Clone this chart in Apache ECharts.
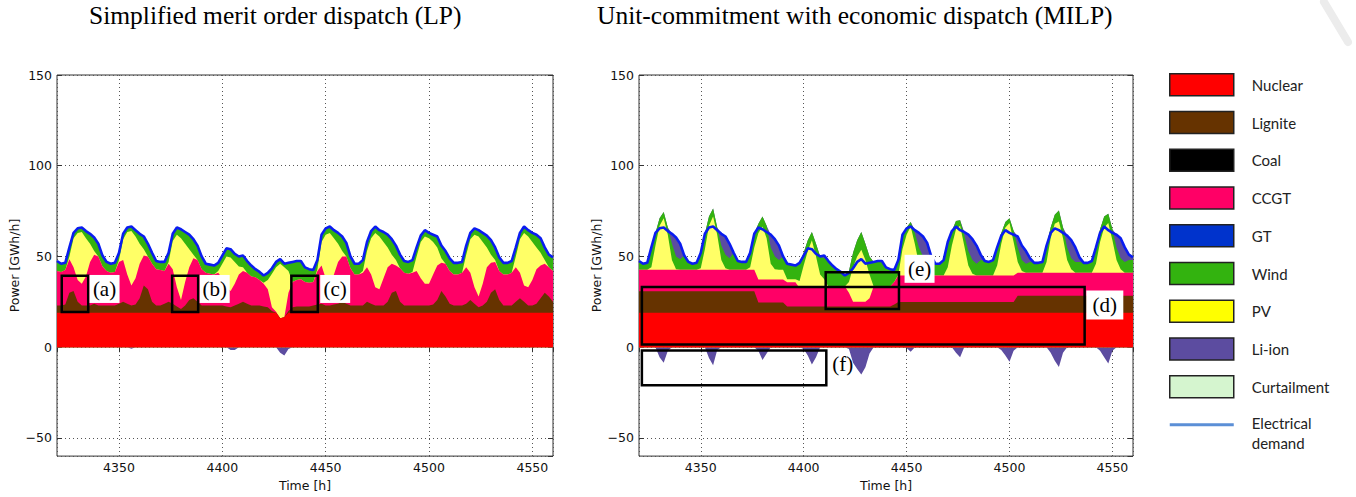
<!DOCTYPE html>
<html>
<head>
<meta charset="utf-8">
<script src="https://cdn.jsdelivr.net/npm/echarts@6/dist/echarts.min.js"></script>
<style>
  html, body { margin: 0; padding: 0; background: #fff; }
  #chart { width: 1356px; height: 497px; }
</style>
</head>
<body>
<div id="chart"></div>
<script>
// Time stamps of the dispatch results (2-hour steps, hours of the year 4320 ... 4560)
const hours = [];
for (let h = 4320; h <= 4560; h += 2) hours.push(h);

// Electrical demand [GWh/h] (same for both models)
const demand = [
  47.5, 46, 46.5, 55, 63, 65.5, 66, 64, 62.5, 60.5, 57, 50.5,
  47, 46, 46.5, 52, 62.5, 66, 66.5, 64.5, 62.5, 61, 57, 52,
  47.5, 47, 47, 52, 62.5, 66, 65, 63.5, 62, 59.5, 56, 50,
  46, 45.5, 45, 46.5, 50.5, 54.5, 54, 51.5, 50, 50.5, 47.5, 45,
  43, 41.5, 39.5, 41, 43.5, 47, 48.5, 46, 46.5, 47, 47.5, 47.5,
  44, 43, 42.5, 48, 62, 65.5, 66.5, 64.5, 63, 61, 57.5, 50,
  46, 46, 48, 58, 64, 66.5, 64.5, 63.5, 62, 59.5, 56, 51,
  47.5, 47, 48, 55, 61.5, 64.5, 63, 62, 61, 56, 53, 49,
  46.5, 46.5, 47, 56, 63, 65.5, 64.5, 63, 61.5, 59, 55, 49.5,
  46.5, 46.5, 47.5, 55, 63, 66.5, 64.5, 63, 62, 60, 55, 51, 49.5
];

// ---- Simplified merit order dispatch (LP): generation per technology [GWh/h]
const nuclearLP = [
  19, 19, 19, 19, 19, 19, 19, 19, 19, 19, 19, 19,
  19, 19, 19, 19, 19, 19, 19, 19, 19, 19, 19, 19,
  19, 19, 19, 19, 19, 19, 19, 19, 19, 19, 19, 19,
  19, 19, 19, 19, 19, 19, 19, 19, 19, 19, 19, 19,
  19, 19, 19, 19, 19, 19, 16, 16.5, 19, 19, 19, 19,
  19, 19, 19, 19, 19, 19, 19, 19, 19, 19, 19, 19,
  19, 19, 19, 19, 19, 19, 19, 19, 19, 19, 19, 19,
  19, 19, 19, 19, 19, 19, 19, 19, 19, 19, 19, 19,
  19, 19, 19, 19, 19, 19, 19, 19, 19, 19, 19, 19,
  19, 19, 19, 19, 19, 19, 19, 19, 19, 19, 19, 19, 19
];
const ligniteLP = [
  4, 4, 4.5, 11, 12, 6, 4, 4, 4, 5, 4, 4,
  4, 4, 4, 5, 6, 5, 4, 4.5, 8, 15, 13, 6,
  4, 4, 5, 6, 5, 3.5, 2, 4, 7, 8, 6, 4,
  4, 4, 4, 4, 4, 3.5, 3, 4, 5, 6, 5, 4,
  4, 4, 3.5, 3, 1, 0, 0, 0, 1, 3, 3.5, 3.5,
  3.5, 3.5, 4, 4.5, 5, 4, 4, 4.5, 5, 6, 5, 4,
  4, 4, 4, 6, 5, 4, 4, 4, 6, 11, 12, 6,
  4, 4, 4, 4, 4, 4, 4, 4.5, 7, 12, 9, 5,
  4, 4, 4, 5, 7, 5, 3, 4, 6, 11, 13, 7,
  4, 4, 4, 6, 8, 6, 4, 4, 5, 8, 11, 9, 6
];
const ccgtLP = [
  19, 18.5, 19, 18.5, 13, 12, 12, 16, 24, 27, 27, 21.5,
  19, 18, 18.5, 23, 23, 16, 11, 14.5, 19, 16.5, 18, 21,
  20, 19.5, 18, 21, 19, 10.5, 5, 13, 18, 22, 23, 20,
  18, 17.5, 17, 18, 15, 10.5, 9, 12, 16, 17, 17, 16,
  15.5, 14, 12.5, 10, 2, 0.5, 0, 0, 10, 14, 14.5, 15,
  13.5, 13, 13, 18.5, 21, 15, 13, 16.5, 23, 25, 26, 20.5,
  17, 17, 18, 19, 16, 10, 9, 15, 19, 16, 14, 18.5,
  18, 17.5, 18, 19, 15, 12, 12, 16.5, 19, 15.5, 18, 18,
  17, 17, 18, 20, 15, 9, 6, 12, 19, 16.5, 15, 16,
  17, 17, 18, 19, 14, 9, 10, 14, 19, 18, 16, 16, 17
];
const pvLP = [
  0, 0, 0, 1.5, 16, 26, 28.5, 21, 10, 2, 0, 0,
  0, 0, 0, 1, 11.5, 23.5, 30, 23, 11, 3.5, 0, 0,
  0, 0, 0, 1, 15.5, 29, 34, 21, 10, 2, 0, 0,
  0, 0, 0, 1, 8, 17, 18.5, 12, 4.5, 2, 0, 0,
  0, 0, 0.5, 5, 18.5, 24.5, 30, 27.5, 12, 0, 0, 0,
  0, 0, 0, 1, 13, 24, 27, 20, 10, 3, 0, 0,
  0, 0, 1, 9, 20, 30, 29, 20, 11, 5, 3, 0,
  0, 0, 0.5, 8, 20, 26, 25, 18, 10, 2.5, 0, 0,
  0, 0, 0, 7, 18.5, 29, 33, 23, 11, 4.5, 1, 0,
  0, 0, 0, 6, 18.5, 29, 28, 21, 12, 7, 2, 0, 0
];
const windLP = [
  5.5, 4.5, 4, 5, 3, 2.5, 2.5, 4, 5.5, 7.5, 7, 6,
  5, 5, 5, 4, 3, 2.5, 2.5, 3.5, 5.5, 7, 7, 6,
  4.5, 4.5, 5, 5, 4, 4, 5, 6.5, 8, 8.5, 8, 7,
  5, 5, 5, 4.5, 4.5, 4.5, 4.5, 4.5, 5.5, 6.5, 6.5, 6,
  4.5, 4.5, 4, 4, 3, 3, 2.5, 2, 4.5, 11, 10.5, 10,
  8, 7.5, 6.5, 5, 4, 3.5, 3.5, 4.5, 6, 8, 7.5, 6.5,
  6, 6, 6, 5, 4, 3.5, 3.5, 5.5, 7, 8.5, 8, 7.5,
  6.5, 6.5, 6.5, 5, 3.5, 3.5, 3, 4, 6, 7, 7, 7,
  6.5, 6.5, 6, 5, 3.5, 3.5, 3.5, 5, 6.5, 8, 7, 7.5,
  6.5, 6.5, 6.5, 5, 3.5, 3.5, 3.5, 5, 7, 8, 7, 7, 7.5
];
const liionChargeLP = [
  0, 0, 0, 0, 0, 0, 0, 0, 0, 0, 0, 0,
  0, 0, 0, 0, 0, 0, -0.8, 0, 0, 0, 0, 0,
  0, 0, 0, 0, 0, 0, 0, 0, 0, 0, 0, 0,
  0, 0, 0, 0, 0, 0, -1.5, -1.5, 0, 0, 0, 0,
  0, 0, 0, 0, 0, 0, -3, -4.5, -1, 0, 0, 0,
  0, 0, 0, 0, 0, 0, 0, 0, 0, 0, 0, 0,
  0, 0, 0, 0, 0, 0, 0, 0, 0, 0, 0, 0,
  0, 0, 0, 0, 0, 0, 0, 0, 0, 0, 0, 0,
  0, 0, 0, 0, 0, 0, 0, 0, 0, 0, 0, 0,
  0, 0, 0, 0, 0, 0, 0, 0, 0, 0, 0, 0, 0
];

// ---- Unit-commitment with economic dispatch (MILP): generation per technology [GWh/h]
const nuclearMILP = [
  19, 19, 19, 19, 19, 19, 19, 19, 19, 19, 19, 19,
  19, 19, 19, 19, 19, 19, 19, 19, 19, 19, 19, 19,
  19, 19, 19, 19, 19, 19, 19, 19, 19, 19, 19, 19,
  19, 19, 19, 19, 19, 19, 19, 19, 19, 19, 19, 19,
  19, 19, 19, 19, 19, 19, 19, 19, 19, 19, 19, 19,
  19, 19, 19, 19, 19, 19, 19, 19, 19, 19, 19, 19,
  19, 19, 19, 19, 19, 19, 19, 19, 19, 19, 19, 19,
  19, 19, 19, 19, 19, 19, 19, 19, 19, 19, 19, 19,
  19, 19, 19, 19, 19, 19, 19, 19, 19, 19, 19, 19,
  19, 19, 19, 19, 19, 19, 19, 19, 19, 19, 19, 19, 19
];
const ligniteMILP = [
  11.8, 11.8, 11.8, 11.8, 11.8, 11.8, 11.8, 11.8, 11.8, 11.8, 11.8, 11.8,
  11.8, 11.8, 11.8, 11.8, 11.8, 11.8, 11.8, 11.8, 11.8, 11.8, 11.8, 11.8,
  11.8, 11.8, 11.8, 11.8, 11.8, 5.6, 5.6, 5.6, 5.6, 5.6, 5.6, 5.6,
  3.5, 3.5, 3.5, 3.5, 3.5, 3.5, 3.5, 3.5, 3.5, 3.5, 3.5, 3.5,
  3.5, 3.5, 3.5, 3.5, 3.5, 3.5, 3.5, 3.5, 3.5, 3.5, 3.5, 3.5,
  3.5, 3.5, 4.5, 5.9, 5.9, 5.9, 5.9, 5.9, 5.9, 5.9, 5.9, 5.9,
  5.9, 5.9, 5.9, 5.9, 5.9, 5.9, 5.9, 5.9, 5.9, 5.9, 5.9, 5.9,
  5.9, 5.9, 5.9, 5.9, 5.9, 5.9, 5.9, 5.9, 9.4, 9.4, 9.4, 9.4,
  9.4, 9.4, 9.4, 9.4, 9.4, 9.4, 9.4, 9.4, 9.4, 9.4, 9.4, 9.4,
  9.4, 9.4, 9.4, 9.4, 9.4, 9.4, 9.4, 9.4, 9.4, 9.4, 9.4, 9.4, 9.4
];
const ccgtMILP = [
  11.9, 11.9, 11.9, 11.9, 11.9, 11.9, 11.9, 11.9, 11.9, 11.9, 11.9, 11.9,
  11.9, 11.9, 11.9, 11.9, 11.9, 11.9, 11.9, 11.9, 11.9, 11.9, 11.9, 11.9,
  11.9, 11.9, 11.9, 11.9, 11.9, 12.7, 12.7, 12.7, 12.7, 12.7, 12.7, 12.7,
  13.3, 13.3, 13.3, 10.1, 10.1, 10.1, 10.1, 10.1, 10.1, 10.1, 11, 11,
  11, 11, 11, 7.5, 2.5, 2.5, 2.5, 2.5, 4.5, 11, 11, 11,
  11, 11, 12.5, 14.6, 14.6, 14.6, 14.6, 14.6, 14.6, 14.6, 14.6, 14.6,
  14.6, 14.6, 14.6, 14.6, 14.6, 14.6, 14.6, 14.6, 14.6, 14.6, 14.6, 14.6,
  14.6, 14.6, 14.6, 14.6, 14.6, 14.6, 14.6, 14.6, 12.6, 12.6, 12.6, 12.6,
  12.6, 12.6, 12.6, 12.6, 12.6, 12.6, 12.6, 12.6, 12.6, 12.6, 12.6, 12.6,
  12.6, 12.6, 12.6, 12.6, 12.6, 12.6, 12.6, 12.6, 12.6, 12.6, 12.6, 12.6, 12.6
];
const pvMILP = [
  0, 0, 0, 1.3, 13.3, 24.3, 28.3, 19.3, 5.3, 0.3, 0, 0,
  0, 0, 0, 0.8, 11.3, 24.3, 29.3, 19.3, 5.3, 0.8, 0, 0,
  0, 0, 0, 1.3, 12.3, 25.7, 29.2, 22.7, 8.7, 5.7, 5.4, 5.4,
  1.7, 1.7, 1.7, 3.9, 12.4, 20.4, 26.4, 17.4, 7.4, 4.9, 0, 0,
  0, 0, 0, 6, 19, 25, 28.7, 23, 13, 0, 0, 0,
  0, 0, 0, 0.5, 14.5, 22.5, 27, 17.5, 6.5, 1.5, 0, 0,
  0, 0, 0, 4.5, 16.5, 25.5, 27.5, 16.5, 5.5, 1, 0, 0,
  0, 0, 0, 5.5, 17.5, 26.5, 28.9, 18.5, 6, 1, 0, 0,
  0, 0, 0, 6, 19, 27, 28.3, 19, 7, 2, 0, 0,
  0, 0, 0, 5, 17, 25, 27.4, 18, 7, 2, 0, 0, 0
];
const windMILP = [
  4.8, 3.3, 3.8, 11, 7, 4, 3.5, 4, 9, 7, 5.8, 7.8,
  4.3, 3.3, 3.8, 8.5, 8.5, 5, 4.5, 4, 8, 7.5, 6.3, 9.3,
  4.8, 4.3, 4.3, 8, 7.5, 5, 5.5, 7, 9, 7, 5.3, 7.3,
  9, 8, 7.5, 10, 7, 6, 4.5, 7, 10, 11.5, 14, 11.5,
  9.5, 8, 6, 6, 8, 9, 9.8, 9, 10, 13.5, 14, 14,
  10.5, 9.5, 6.5, 8, 8, 4, 2.5, 6, 9, 9, 8.5, 7.5,
  6.5, 6.5, 8.5, 14, 8, 4.5, 3, 6, 8, 7.5, 6.5, 8.5,
  8, 7.5, 8.5, 10, 6, 3, 2.6, 6, 8, 6, 5, 6,
  5.5, 5.5, 6, 9, 6, 5, 6.1, 6, 7, 6, 6, 6,
  5.5, 5.5, 6.5, 9, 7, 6, 5.1, 6, 7, 6, 6, 7, 7
];
const liionDischargeMILP = [
  0, 0, 0, 0, 0, 0, 0, 0, 5.5, 10.5, 8.5, 0,
  0, 0, 0, 0, 0, 0, 0, 0, 6.5, 10, 8, 0,
  0, 0, 0, 0, 0, 0, 0, 0, 7, 9.5, 8, 0,
  0, 0, 0, 0, 0, 0, 0, 0, 0, 1.5, 0, 0,
  0, 0, 0, 0, 0, 0, 0, 0, 0, 0, 0, 0,
  0, 0, 0, 0, 0, 0, 0, 1.5, 8, 11, 9.5, 3,
  0, 0, 0, 0, 0, 0, 0, 1.5, 9, 11.5, 10, 3,
  0, 0, 0, 0, 0, 0, 0, 0, 6, 8, 7, 2,
  0, 0, 0, 0, 0, 0, 0, 0, 6.5, 10, 8, 2.5,
  0, 0, 0, 0, 0, 0, 0, 0, 7, 11, 8, 3, 1.5
];
const liionChargeMILP = [
  0, 0, 0, 0, 0, -5.5, -8.5, -2, 0, 0, 0, 0,
  0, 0, 0, 0, 0, -6, -10, -1.5, 0, 0, 0, 0,
  0, 0, 0, 0, 0, -2, -7, -3.5, 0, 0, 0, 0,
  0, 0, 0, 0, -1, -4.5, -9.5, -5.5, 0, 0, 0, 0,
  0, 0, 0, -1, -8.5, -12, -15, -11, -3.5, 0, 0, 0,
  0, 0, 0, 0, 0, -0.5, -2.5, 0, 0, 0, 0, 0,
  0, 0, 0, 0, 0, -3, -5.5, 0, 0, 0, 0, 0,
  0, 0, 0, 0, -1.5, -4.5, -8, -2, 0, 0, 0, 0,
  0, 0, 0, 0, -3, -7.5, -10.9, -3, 0, 0, 0, 0,
  0, 0, 0, 0, -2, -5.5, -9, -2, 0, 0, 0, 0, 0
];

// Highlighted periods: [tag, hourFrom, valueFrom, hourTo, valueTo]
const boxesLP = [
  ['(a)', 4322.3, 19.4, 4335.1, 39.4],
  ['(b)', 4375.7, 19.4, 4388.3, 39.4],
  ['(c)', 4433.4, 19.4, 4446.2, 39.4]
];
const boxesMILP = [
  ['(d)', 4321.4, 1.5, 4536.5, 33.2],
  ['(e)', 4410.7, 21.1, 4446.3, 41.3],
  ['(f)', 4321.4, -1.8, 4411, -20.9]
];
// Tag positions: [tag, hour, value]
const tagsLP = [['(a)', 4343, 32.1], ['(b)', 4396.3, 32.1], ['(c)', 4454.6, 32.1]];
const tagsMILP = [['(d)', 4546.3, 23.2], ['(e)', 4456.3, 43.2], ['(f)', 4419, -9.5]];

// Legend entries
const legendNames = ['Nuclear', 'Lignite', 'Coal', 'CCGT', 'GT', 'Wind', 'PV', 'Li-ion', 'Curtailment', 'Electrical demand'];

const COLORS = {
  'Nuclear': '#ff0000', 'Lignite': '#663300', 'Coal': '#000000', 'CCGT': '#ff0066',
  'GT': '#0033cc', 'Wind': '#33b30f', 'PV': '#ffff66', 'Li-ion': '#5c4ca0',
  'Curtailment': '#d5f5cf', 'Electrical demand': '#0a1cf0'
};
const LEGEND_COLORS = Object.assign({}, COLORS, { 'PV': '#ffff00', 'Electrical demand': '#5b8fd6' });

const TICK_FONT = { fontFamily: 'DejaVu Sans', fontSize: 12.5, color: '#111' };
const SERIF = 'Liberation Serif, Times New Roman, serif';

function areaSeries(idx, name, color, values, z) {
  return {
    type: 'line', name, xAxisIndex: idx, yAxisIndex: idx,
    data: values.map((v, i) => [hours[i], Math.round(v * 100) / 100]),
    symbol: 'none', showSymbol: false, silent: true, z,
    lineStyle: { width: 0 }, itemStyle: { color },
    areaStyle: { color, opacity: 1 },
    emphasis: { disabled: true }
  };
}

// Stacked generation: each layer is drawn as a filled band on top of the previous ones
function panelSeries(idx, layers, charge, boxes, tags) {
  let run = hours.map(() => 0);
  const tops = layers.map(l => (run = run.map((v, i) => v + l.values[i])));
  const out = [];
  for (let k = layers.length - 1; k >= 0; k--) {
    out.push(areaSeries(idx, layers[k].name, COLORS[layers[k].name], tops[k], 2 + layers.length - k));
  }
  out.push(areaSeries(idx, 'Li-ion', COLORS['Li-ion'], charge, 2));
  out.push({
    type: 'line', name: 'Electrical demand', xAxisIndex: idx, yAxisIndex: idx,
    data: demand.map((v, i) => [hours[i], v]),
    symbol: 'none', showSymbol: false, silent: true, z: 20,
    lineStyle: { color: COLORS['Electrical demand'], width: 2.6 },
    itemStyle: { color: COLORS['Electrical demand'] },
    emphasis: { disabled: true }
  });
  out.push({
    type: 'line', xAxisIndex: idx, yAxisIndex: idx, data: [], silent: true, z: 30,
    markArea: {
      silent: true, z: 30,
      itemStyle: { color: 'rgba(0,0,0,0)', borderColor: '#000', borderWidth: 2.5 },
      label: { show: false },
      data: boxes.map(b => [{ coord: [b[1], b[2]] }, { coord: [b[3], b[4]] }])
    },
    markPoint: {
      silent: true, z: 31, symbol: 'rect',
      label: { show: true, position: 'inside', formatter: '{b}', fontFamily: SERIF, fontSize: 21, color: '#000' },
      data: tags.map(t => ({
        name: t[0], coord: [t[1], t[2]],
        symbolSize: t[0] === '(d)' ? [37, 29] : [30, 28],
        itemStyle: { color: t[0] === '(f)' ? 'rgba(255,255,255,0)' : '#fff' }
      }))
    }
  });
  return out;
}

const seriesLP = panelSeries(0, [
  { name: 'Nuclear', values: nuclearLP },
  { name: 'Lignite', values: ligniteLP },
  { name: 'CCGT', values: ccgtLP },
  { name: 'PV', values: pvLP },
  { name: 'Wind', values: windLP }
], liionChargeLP, boxesLP, tagsLP);

const seriesMILP = panelSeries(1, [
  { name: 'Nuclear', values: nuclearMILP },
  { name: 'Lignite', values: ligniteMILP },
  { name: 'CCGT', values: ccgtMILP },
  { name: 'PV', values: pvMILP },
  { name: 'Wind', values: windMILP },
  { name: 'Li-ion', values: liionDischargeMILP }
], liionChargeMILP, boxesMILP, tagsMILP);

// Technologies without output in this period still appear in the legend
const legendOnly = ['Coal', 'GT', 'Curtailment'].map(n => ({
  type: 'line', name: n, xAxisIndex: 0, yAxisIndex: 0, data: [], symbol: 'none',
  itemStyle: { color: COLORS[n] }, lineStyle: { width: 0 }
}));

const minusFmt = v => (v < 0 ? '\u2212' + Math.abs(v) : String(v));

function xAxisFor(idx, top) {
  return {
    type: 'value', gridIndex: idx, min: 4320, max: 4560, position: top ? 'top' : 'bottom',
    name: top ? '' : 'Time [h]', nameLocation: 'middle', nameGap: 22,
    nameTextStyle: TICK_FONT,
    axisLine: { show: false },
    axisTick: { show: true, inside: true, length: 5, lineStyle: { color: '#333' } },
    axisLabel: Object.assign({ show: !top, margin: 5, showMinLabel: false, showMaxLabel: false, formatter: v => String(v) }, TICK_FONT),
    splitLine: { show: !top, lineStyle: { color: '#555', type: [1, 3], width: 1 } }
  };
}
function yAxisFor(idx, right) {
  return {
    type: 'value', gridIndex: idx, min: -60, max: 150, position: right ? 'right' : 'left',
    name: right ? '' : 'Power [GWh/h]', nameLocation: 'middle', nameGap: 36, nameRotate: 90,
    nameTextStyle: TICK_FONT,
    axisLine: { show: false },
    axisTick: { show: true, inside: true, length: 5, lineStyle: { color: '#333' } },
    axisLabel: Object.assign({ show: !right, margin: 5, showMinLabel: false, formatter: minusFmt }, TICK_FONT),
    splitLine: { show: !right, lineStyle: { color: '#555', type: [1, 3], width: 1 } }
  };
}

const chart = echarts.init(document.getElementById('chart'), null, { renderer: 'svg' });
chart.setOption({
  animation: false,
  backgroundColor: '#fff',
  title: [
    { text: 'Simplified merit order dispatch (LP)', left: 89, top: 2, padding: 0,
      textStyle: { fontFamily: SERIF, fontSize: 25.5, fontWeight: 'normal', color: '#000' } },
    { text: 'Unit-commitment with economic dispatch (MILP)', left: 597, top: 2, padding: 0,
      textStyle: { fontFamily: SERIF, fontSize: 25.5, fontWeight: 'normal', color: '#000' } }
  ],
  grid: [
    { left: 57, top: 75, width: 496, height: 382, show: true, borderColor: '#333', borderWidth: 1, backgroundColor: 'transparent' },
    { left: 639, top: 75, width: 494, height: 382, show: true, borderColor: '#333', borderWidth: 1, backgroundColor: 'transparent' }
  ],
  xAxis: [xAxisFor(0, false), xAxisFor(1, false), xAxisFor(0, true), xAxisFor(1, true)],
  yAxis: [yAxisFor(0, false), yAxisFor(1, false), yAxisFor(0, true), yAxisFor(1, true)],
  legend: {
    orient: 'vertical', left: 1164, top: 68,
    itemWidth: 64, itemHeight: 22, itemGap: 14.25,
    icon: 'rect', selectedMode: false,
    itemStyle: { borderColor: '#222', borderWidth: 1.5 },
    textStyle: { fontFamily: 'Lato, Open Sans, sans-serif', fontSize: 15, color: '#222', padding: [0, 0, 0, 13], lineHeight: 20 },
    formatter: n => (n === 'Electrical demand' ? 'Electrical\ndemand' : n),
    data: legendNames.map(n => n === 'Electrical demand'
      ? { name: n, icon: 'path://M0,0H64V3H0Z M0,19H0.01V19.01H0Z', itemStyle: { color: LEGEND_COLORS[n], borderWidth: 0 } }
      : { name: n, itemStyle: { color: LEGEND_COLORS[n] } })
  },
  graphic: [
    { type: 'line', silent: true, shape: { x1: 1324, y1: 2, x2: 1348, y2: 42 },
      style: { stroke: '#ececec', lineWidth: 8, lineCap: 'round' } }
  ],
  series: [].concat(seriesLP, seriesMILP, legendOnly)
});
</script>
</body>
</html>
